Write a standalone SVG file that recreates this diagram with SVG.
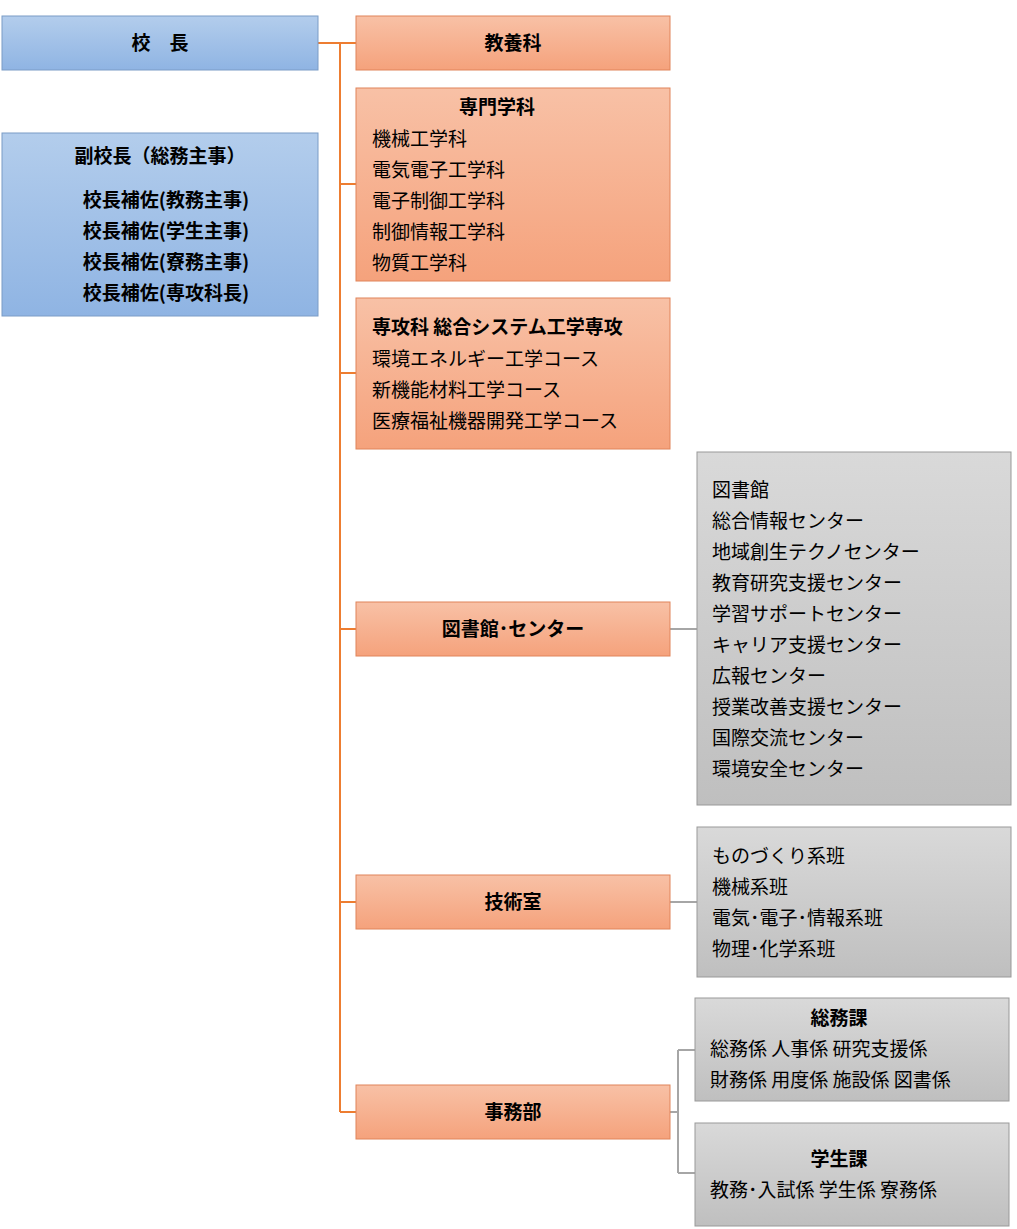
<svg xmlns="http://www.w3.org/2000/svg" width="1017" height="1229" viewBox="0 0 1017 1229">
<defs>
<linearGradient id="gb" x1="0" y1="0" x2="0" y2="1"><stop offset="0" stop-color="#b3cdec"/><stop offset="1" stop-color="#8fb4e3"/></linearGradient>
<linearGradient id="go" x1="0" y1="0" x2="0" y2="1"><stop offset="0" stop-color="#f8c1a6"/><stop offset="1" stop-color="#f5a27c"/></linearGradient>
<linearGradient id="gg" x1="0" y1="0" x2="0" y2="1"><stop offset="0" stop-color="#d9d9d9"/><stop offset="1" stop-color="#bfbfbf"/></linearGradient>
<style>
text{font-family:"Noto Sans CJK JP","Noto Sans",sans-serif;font-size:19px;fill:#000}
.b{font-weight:bold}
.c{text-anchor:middle}
.blue{fill:url(#gb);stroke:#7a9cc6;stroke-width:1}
.or{fill:url(#go);stroke:#e0845a;stroke-width:1}
.gr{fill:url(#gg);stroke:#999;stroke-width:1}
.ol{stroke:#ed7d31;stroke-width:2;fill:none}
.gl{stroke:#a6a6a6;stroke-width:2;fill:none}
</style>
</defs>
<g id="connectors">
<path class="ol" d="M318 43H340V1112M340 43H356M340 184H356M340 373H356M340 629H356M340 902H356M340 1112H356"/>
<path class="gl" d="M670 629H697M670 902H697M670 1112H678M678 1050V1173M678 1050H695M678 1173H695"/>
</g>
<g id="kocho"><rect class="blue" x="2" y="16" width="316" height="54"/><text class="b c" x="160" y="50">校　長</text></g>
<g id="fuku"><rect class="blue" x="2" y="133" width="316" height="183"/>
<text class="b c" x="160" y="163">副校長（総務主事）</text>
<text class="b c" x="166" y="207">校長補佐(教務主事)</text>
<text class="b c" x="166" y="238">校長補佐(学生主事)</text>
<text class="b c" x="166" y="269">校長補佐(寮務主事)</text>
<text class="b c" x="166" y="300">校長補佐(専攻科長)</text></g>
<g id="kyoyo"><rect class="or" x="356" y="16" width="314" height="54"/><text class="b c" x="513" y="50">教養科</text></g>
<g id="senmon"><rect class="or" x="356" y="88" width="314" height="193"/>
<text class="b c" x="497" y="114">専門学科</text>
<text x="372" y="146">機械工学科</text><text x="372" y="177">電気電子工学科</text><text x="372" y="208">電子制御工学科</text><text x="372" y="239">制御情報工学科</text><text x="372" y="270">物質工学科</text></g>
<g id="senko"><rect class="or" x="356" y="298" width="314" height="151"/>
<text class="b" x="372" y="334">専攻科  総合システム工学専攻</text>
<text x="372" y="366">環境エネルギー工学コース</text><text x="372" y="397">新機能材料工学コース</text><text x="372" y="428">医療福祉機器開発工学コース</text></g>
<g id="tosho"><rect class="or" x="356" y="602" width="314" height="54"/><text class="b c" x="513" y="636">図書館･センター</text></g>
<g id="centers"><rect class="gr" x="697" y="452" width="314" height="353"/>
<text x="712" y="497">図書館</text><text x="712" y="528">総合情報センター</text><text x="712" y="559">地域創生テクノセンター</text><text x="712" y="590">教育研究支援センター</text><text x="712" y="621">学習サポートセンター</text><text x="712" y="652">キャリア支援センター</text><text x="712" y="683">広報センター</text><text x="712" y="714">授業改善支援センター</text><text x="712" y="745">国際交流センター</text><text x="712" y="776">環境安全センター</text></g>
<g id="gijutsu"><rect class="or" x="356" y="875" width="314" height="54"/><text class="b c" x="513" y="909">技術室</text></g>
<g id="han"><rect class="gr" x="697" y="827" width="314" height="150"/>
<text x="712" y="863">ものづくり系班</text><text x="712" y="894">機械系班</text><text x="712" y="925">電気･電子･情報系班</text><text x="712" y="956">物理･化学系班</text></g>
<g id="jimu"><rect class="or" x="356" y="1085" width="314" height="54"/><text class="b c" x="513" y="1119">事務部</text></g>
<g id="somu"><rect class="gr" x="695" y="998" width="314" height="103"/>
<text class="b c" x="839" y="1025">総務課</text>
<text x="710" y="1056">総務係  人事係  研究支援係</text><text x="710" y="1087">財務係  用度係  施設係 図書係</text></g>
<g id="gakusei"><rect class="gr" x="695" y="1123" width="314" height="103"/>
<text class="b c" x="839" y="1166">学生課</text>
<text x="710" y="1197">教務･入試係  学生係 寮務係</text></g>
</svg>
